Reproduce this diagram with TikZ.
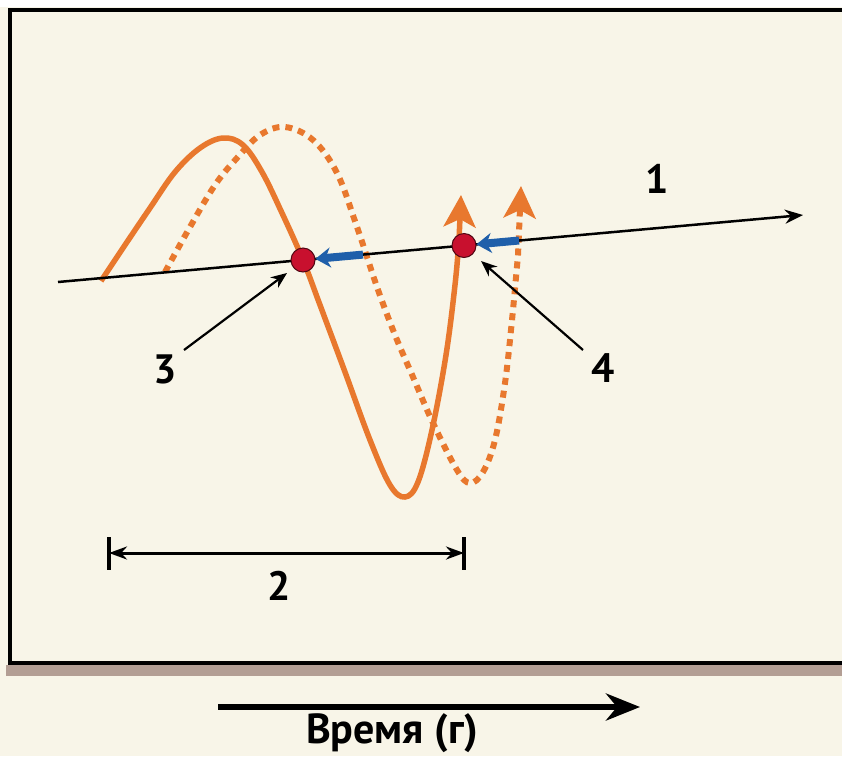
\documentclass[tikz,border=0pt]{standalone}
\usepackage{fontspec}
\setmainfont{PT Sans}
\usetikzlibrary{arrows.meta}
\definecolor{paper}{HTML}{F8F5E8}
\definecolor{wave}{HTML}{E8782E}
\definecolor{dotred}{HTML}{C8102E}
\definecolor{push}{HTML}{1F5FAA}
\definecolor{strip}{HTML}{B39E94}

\begin{document}
\begin{tikzpicture}[x=1pt, y=-1pt, >=Stealth,
    num/.style={font=\fontsize{41}{41}\selectfont\bfseries, inner sep=0pt, anchor=base},
    crest/.style={line width=5.5pt, wave},
    ghost/.style={line width=6pt, wave, dash pattern=on 7pt off 6pt},
    bighead/.style={-{Stealth[length=32pt,width=32pt,inset=8pt]}},
    reddot/.style={circle, fill=dotred, draw=black!60!dotred, line width=1pt, minimum size=24pt, inner sep=0pt},
    shove/.style={line width=8pt, push, -{Stealth[length=15pt,width=20pt]}},
    pointer/.style={line width=2.2pt, -{Stealth[length=16pt,width=13pt]}}]
  \useasboundingbox (0,0) rectangle (842,756);
  % фон и рамка
  \fill[paper] (0,0) rectangle (842,756);
  \fill[white] (0,0) rectangle (842,7);
  \fill[strip] (6,665) rectangle (842,676);
  \draw[line width=4pt] (10,10) rectangle (870,663);
  % сдвинутая волна (пунктир)
  \draw[ghost, bighead] plot[smooth, tension=0.6] coordinates {
    (165,272) (190,227) (215,185) (237,158) (260,135) (285,127) (313,140)
    (337,173) (357,227) (377,287) (395,335) (413,377) (433,423) (457,470)
    (470,483) (483,472) (495,440) (505,383) (512,320) (518,255)} -- (521,186);
  % исходная волна
  \draw[crest, bighead] plot[smooth, tension=0.6] coordinates {
    (101,281) (125,245) (150,208) (175,172) (200,148) (223,138) (243,145)
    (262,172) (282,213) (303,260) (320,305) (345,372) (370,440) (390,485)
    (405,497) (418,482) (432,430) (446,355) (455,285) (459,240)} -- (461,195);
  % ось 1
  \coordinate (ax0) at (58,282);
  \coordinate (ax1) at (803,215);
  \draw[line width=2.5pt, -{Stealth[length=18pt,width=14pt]}] (ax0) -- (ax1);
  \node[num] (n1) at (657,193) {1};
  % точки и сдвиги
  \node[reddot] (p3) at (303,260) {};
  \node[reddot] (p4) at (464,245.5) {};
  \coordinate (b3) at (363,254.6);
  \coordinate (b4) at (519,240.5);
  \draw[shove] (b3) -- (p3);
  \draw[shove] (b4) -- (p4);
  % выноски 3 и 4
  \node[num] (n3) at (165,383) {3};
  \node[num] (n4) at (603,382) {4};
  \coordinate (t3) at (184,350);
  \coordinate (h3) at (287,273);
  \coordinate (t4) at (583,350);
  \coordinate (h4) at (481,261);
  \draw[pointer] (t3) -- (h3);
  \draw[pointer] (t4) -- (h4);
  % отрезок 2
  \coordinate (d0) at (109,553);
  \coordinate (d1) at (464,553);
  \draw[line width=4.5pt] (d0) ++(0,-16) -- ++(0,33);
  \draw[line width=4.5pt] (d1) ++(0,-16) -- ++(0,33);
  \draw[line width=3pt, {Stealth[length=18pt,width=13pt]}-{Stealth[length=18pt,width=13pt]}] (d0) -- (d1);
  \node[num] (n2) at (279,600) {2};
  % ось времени
  \coordinate (t0) at (218,707);
  \coordinate (t1) at (640,707);
  \draw[line width=6pt, -{Stealth[length=34pt,width=27pt]}] (t0) -- (t1);
  \node[font=\fontsize{42}{42}\selectfont\bfseries, inner sep=0pt, anchor=base] (tlabel) at (392,743) {Время (г)};
\end{tikzpicture}
\end{document}
